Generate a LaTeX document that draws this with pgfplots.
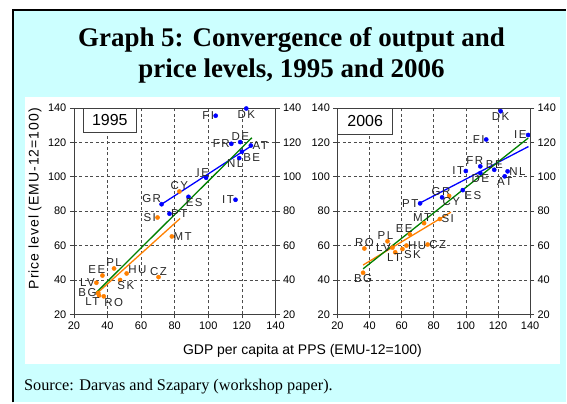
\documentclass[border=0pt]{standalone}
\usepackage{pgfplots}
\pgfplotsset{compat=1.18}
\usepackage{pgfplotstable}
\usepackage{fontspec}
\setmainfont{Liberation Sans}
\newfontfamily\serifrm{Liberation Serif}
\newfontfamily\lblfont[LetterSpace=13]{Liberation Sans}
\newfontfamily\yfont[LetterSpace=7]{Liberation Sans}

\definecolor{bgcyan}{RGB}{204,255,255}
\definecolor{ptblue}{RGB}{0,0,255}
\definecolor{ptorange}{RGB}{255,128,0}
\definecolor{fitgreen}{RGB}{0,128,0}

% x y country label-angle
\pgfplotstableread{
x y lab anc
104.4 135.4 FI 0
122.6 139.6 DK 90
119.0 120.1 DE 270
113.7 119.1 FR 0
125.3 118.1 AT 180
120.0 114.5 BE 150
118.4 110.8 NL 55
98.7 99.4 IE 300
116.2 86.6 IT 0
88.2 88.3 ES 135
72.2 84.0 GR 330
76.9 78.5 PT 180
}\oldblue
\pgfplotstableread{
x y lab anc
82.8 91.4 CY 270
69.8 76.3 SI 0
78.3 65.3 MT 180
70.4 41.7 CZ 270
51.4 43.8 HU 200
43.9 46.7 PL 270
37.0 42.6 EE 315
47.5 40.0 SK 135
33.4 38.4 LV 0
34.5 32.5 BG 0
35.0 31.0 LT 40
37.8 30.5 RO 150
}\oldorange
\pgfplotstableread{
x y lab anc
121.7 138.0 DK 90
112.7 121.6 FI 0
138.8 124.2 IE 0
109.0 106.0 FR 315
117.7 104.0 BE 270
109.0 102.1 DE 90
126.0 103.1 NL 180
124.2 100.2 AT 90
100.0 103.3 IT 0
98.1 92.2 ES 150
85.2 88.0 GR 280
71.5 84.5 PT 0
}\newblue
\pgfplotstableread{
x y lab anc
89.6 88.8 CY 110
74.0 73.0 MT 290
83.8 75.4 SI 180
65.1 66.5 EE 315
51.2 62.5 PL 290
36.8 58.3 RO 270
54.3 58.8 LV 0
56.0 56.1 LT 80
60.5 58.0 SK 150
63.0 60.0 HU 180
76.2 60.6 CZ 180
36.0 44.2 BG 90
}\neworange

\pgfplotsset{
  panel/.style={
    scale only axis, height=207pt, anchor=south west,
    xmin=20, xmax=140, ymin=20, ymax=140,
    xtick={20,40,...,140}, ytick={20,40,...,140},
    tick align=outside, major tick length=4pt,
    xtick pos=bottom,
    tick label style={font=\fontsize{11}{12}\selectfont},
    /pgf/number format/assume math mode=true,
    axis line style={black!75, line width=0.6pt},
    tick style={black!75, line width=0.6pt},
  },
  rightlab/.style={panel, hide x axis, axis y line*=right, yticklabel pos=right},
  trend/.style={no marks, line width=1.3pt, color=#1},
  every node near coord/.append style={inner sep=1.5pt,
      font=\lblfont\fontsize{11.5}{12}\selectfont, text=black!85},
}

\begin{document}
\begin{tikzpicture}
\fill[white] (0pt,0pt) rectangle (567pt,403pt);
\fill[bgcyan] (13pt,0pt) rectangle (567pt,393pt);
\draw[line width=2pt] (13pt,0pt) -- (13pt,393pt) -- (567pt,393pt);
\fill[white] (25pt,38pt) rectangle (561pt,306pt);

\node[font=\serifrm\bfseries\fontsize{27}{30}\selectfont, anchor=base] at (292pt,356pt) {Graph 5: Convergence of output and};
\node[font=\serifrm\bfseries\fontsize{27}{30}\selectfont, anchor=base] at (292pt,325pt) {price levels, 1995 and 2006};
\node[font=\serifrm\fontsize{16.3}{18}\selectfont, anchor=base west, inner sep=0pt] at (24pt,12pt) {Source: Darvas and Szapary (workshop paper).};

\node[font=\fontsize{14}{16}\selectfont] at (303pt,51pt) {GDP per capita at PPS (EMU-12=100)};
\node[font=\yfont\fontsize{14}{16}\selectfont, rotate=90] at (35pt,204pt) {Price level (EMU-12=100)};

% 1995
\begin{axis}[panel, at={(74pt,88pt)}, width=202pt,
  grid=major, grid style={black!70, line width=0.5pt, dash pattern=on 3pt off 2.5pt}]
\addplot[color=ptblue, only marks, mark=*, mark size=2.1pt, mark options={draw=none, fill=ptblue},
  point meta=explicit symbolic, nodes near coords,
  visualization depends on={\thisrow{anc}\as\anc},
  nodes near coords style={anchor=\anc}]
  table[x=x, y=y, meta=lab] {\oldblue};
\addplot[color=ptorange, only marks, mark=*, mark size=2.1pt, mark options={draw=none, fill=ptorange},
  point meta=explicit symbolic, nodes near coords,
  visualization depends on={\thisrow{anc}\as\anc},
  nodes near coords style={anchor=\anc}]
  table[x=x, y=y, meta=lab] {\oldorange};
\addplot[trend=ptorange] coordinates {(33,31.6) (83.2,75.7)};
\addplot[trend=ptblue] coordinates {(72.2,84.0) (126.3,118.3)};
\addplot[trend=fitgreen] coordinates {(33,32.4) (125.9,122.6)};
\node[draw=black!75, fill=white, line width=0.6pt, minimum width=54pt, minimum height=24pt,
  font=\fontsize{16}{18}\selectfont, anchor=north west, inner sep=0pt] at (rel axis cs:0.043,1) {1995};
\end{axis}
\begin{axis}[rightlab, at={(74pt,88pt)}, width=202pt]
\end{axis}

% 2006
\begin{axis}[panel, at={(338pt,88pt)}, width=193pt,
  grid=major, grid style={black!70, line width=0.5pt, dash pattern=on 3pt off 2.5pt}]
\addplot[color=ptblue, only marks, mark=*, mark size=2.1pt, mark options={draw=none, fill=ptblue},
  point meta=explicit symbolic, nodes near coords,
  visualization depends on={\thisrow{anc}\as\anc},
  nodes near coords style={anchor=\anc}]
  table[x=x, y=y, meta=lab] {\newblue};
\addplot[color=ptorange, only marks, mark=*, mark size=2.1pt, mark options={draw=none, fill=ptorange},
  point meta=explicit symbolic, nodes near coords,
  visualization depends on={\thisrow{anc}\as\anc},
  nodes near coords style={anchor=\anc}]
  table[x=x, y=y, meta=lab] {\neworange};
\addplot[trend=ptorange] coordinates {(36,48.7) (90.7,79.4)};
\addplot[trend=ptblue] coordinates {(72,85) (139,117.5)};
\addplot[trend=fitgreen] coordinates {(36,46.5) (138.8,122.4)};
\node[draw=black!75, fill=white, line width=0.6pt, minimum width=55pt, minimum height=26pt,
  font=\fontsize{16}{18}\selectfont, anchor=north west, inner sep=0pt] at (rel axis cs:0,1) {2006};
\end{axis}
\begin{axis}[rightlab, at={(338pt,88pt)}, width=193pt]
\end{axis}
\end{tikzpicture}
\end{document}
